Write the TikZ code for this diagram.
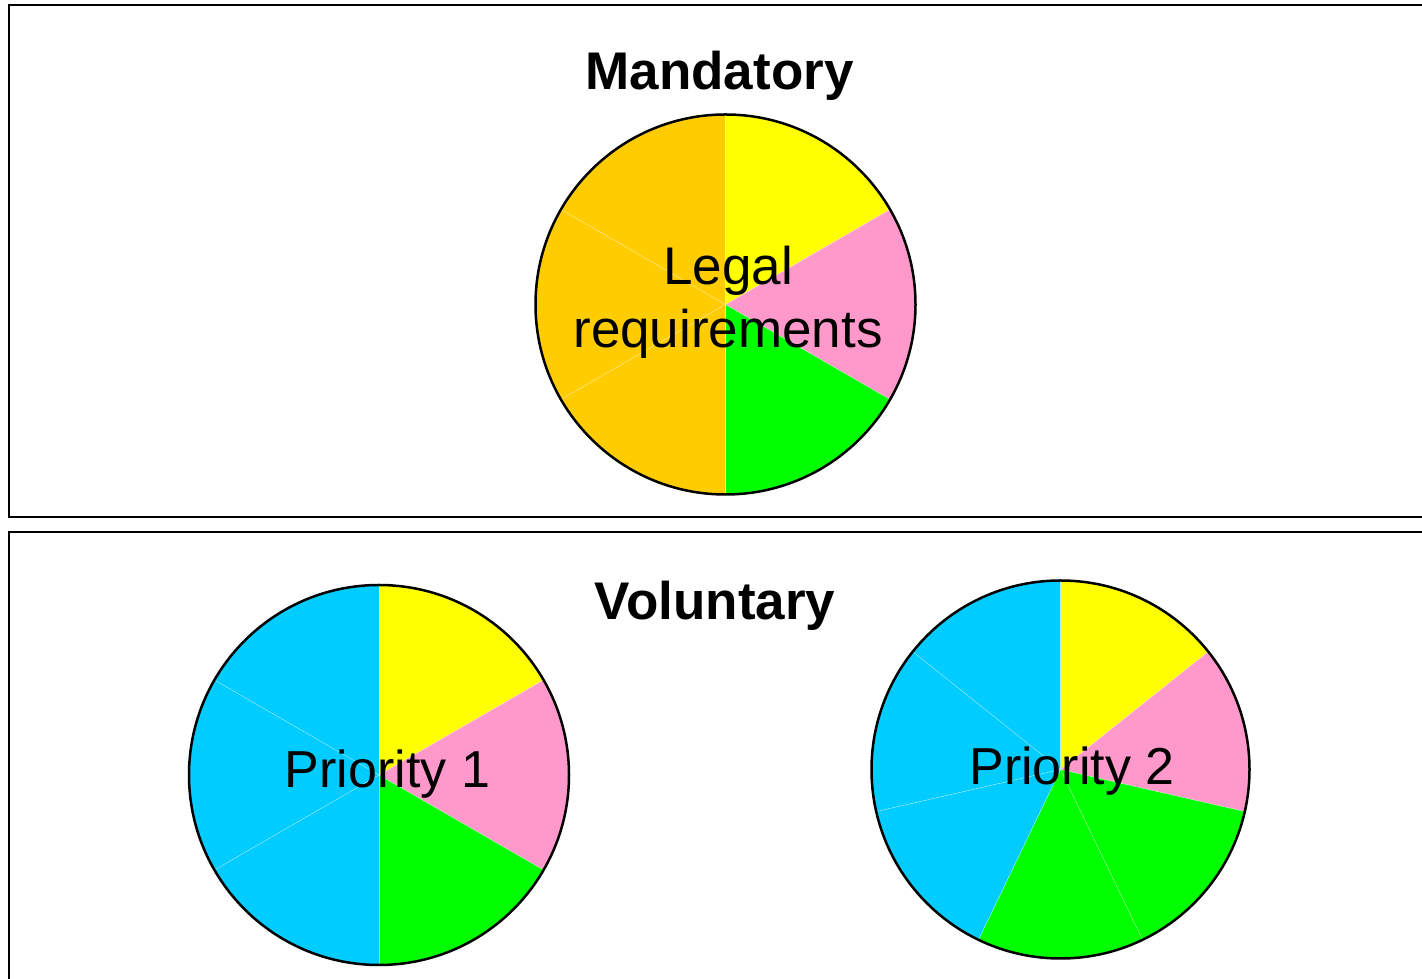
\documentclass[tikz,border=0pt]{standalone}
\usepackage{fontspec}
\setmainfont{Liberation Sans}
\definecolor{pyellow}{HTML}{FFFF00}
\definecolor{ppink}{HTML}{FF99CC}
\definecolor{pgreen}{HTML}{00FF00}
\definecolor{porange}{HTML}{FFCC00}
\definecolor{pcyan}{HTML}{00CCFF}
\newcommand\mysector[5]{%
  \fill[#5] (#1) -- ++(#3:#2) arc[start angle=#3, end angle=#4, radius=#2] -- cycle;}
\newcommand\myseam[3]{%
  \draw[seam] (#1) -- ++(#3:#2);}
\begin{document}
\begin{tikzpicture}[x=1pt,y=1pt,
  boxline/.style={draw=black, line width=2pt},
  pieline/.style={draw=black, line width=2.5pt},
  seam/.style={draw=white, line width=0.5pt, opacity=0.5},
  title/.style={anchor=base, inner sep=0pt, font=\fontsize{53}{63}\selectfont\bfseries},
  label/.style={anchor=base, inner sep=0pt, font=\fontsize{53}{63}\selectfont},
  plabel/.style={anchor=base, inner sep=0pt, font=\fontsize{52}{63}\selectfont}]
\clip (0,0) rectangle (1422,979);
\fill[white] (0,0) rectangle (1422,979);
% boxes
\draw[boxline] (8.5,974) rectangle (1440,462);
\draw[boxline] (8.5,447) rectangle (1440,-20);
% top pie
\coordinate (c1) at (725.5,674.5);
\mysector{c1}{190}{30}{90}{pyellow}
\mysector{c1}{190}{-30}{30}{ppink}
\mysector{c1}{190}{-90}{-30}{pgreen}
\mysector{c1}{190}{90}{150}{porange}
\mysector{c1}{190}{150}{210}{porange}
\mysector{c1}{190}{210}{270}{porange}
\foreach \a in {90,30,-30,-90,150,210}{\myseam{c1}{190}{\a}}
\draw[pieline] (c1) circle[radius=190];
% priority 1 pie
\coordinate (c2) at (379,204);
\mysector{c2}{190}{30}{90}{pyellow}
\mysector{c2}{190}{-30}{30}{ppink}
\mysector{c2}{190}{-90}{-30}{pgreen}
\mysector{c2}{190}{90}{150}{pcyan}
\mysector{c2}{190}{150}{210}{pcyan}
\mysector{c2}{190}{210}{270}{pcyan}
\foreach \a in {90,30,-30,-90,150,210}{\myseam{c2}{190}{\a}}
\draw[pieline] (c2) circle[radius=190];
% priority 2 pie (7 sectors)
\coordinate (c3) at (1060.5,209.5);
\mysector{c3}{189}{38.571}{90}{pyellow}
\mysector{c3}{189}{-12.857}{38.571}{ppink}
\mysector{c3}{189}{-64.286}{-12.857}{pgreen}
\mysector{c3}{189}{-115.714}{-64.286}{pgreen}
\mysector{c3}{189}{-167.143}{-115.714}{pcyan}
\mysector{c3}{189}{141.429}{192.857}{pcyan}
\mysector{c3}{189}{90}{141.429}{pcyan}
\foreach \a in {90,38.571,-12.857,-64.286,-115.714,-167.143,141.429}{\myseam{c3}{189}{\a}}
\draw[pieline] (c3) circle[radius=189];
% texts
\node[title] (mand) at (719.5,889) {Mandatory};
\node[title] (vol) at (715,359) {Voluntary};
\node[label] (legal) at (728,694) {Legal};
\node[label] (req) at (728,631) {requirements};
\node[plabel] (p1) at (387.5,191) {Priority 1};
\node[plabel] (p2) at (1072,194) {Priority 2};
\end{tikzpicture}
\end{document}
